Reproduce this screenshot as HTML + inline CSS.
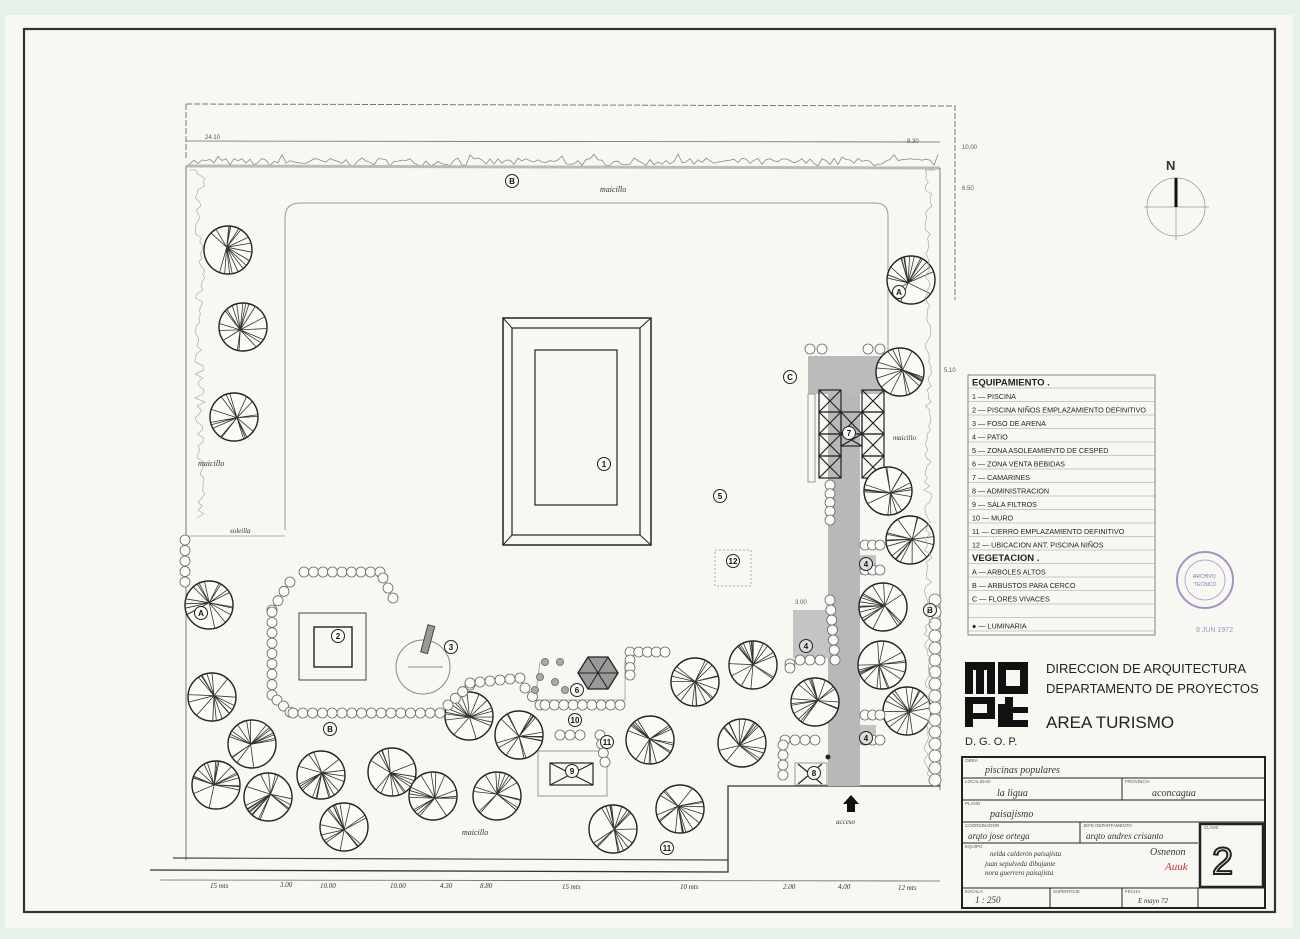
<!DOCTYPE html>
<html><head><meta charset="utf-8">
<style>
html,body{margin:0;padding:0;background:#e6f1ea;}
svg{display:block}
text{font-family:"Liberation Sans",sans-serif;}
.h{font-family:"Liberation Serif",serif;font-style:italic;fill:#333}
</style></head>
<body>
<svg id="s" width="1300" height="939" viewBox="0 0 1300 939" xmlns="http://www.w3.org/2000/svg">
<rect x="0" y="0" width="1300" height="939" fill="#e6f1ea"/>
<rect x="5" y="15" width="1288" height="913" fill="#f8f8f3"/>
<rect x="24" y="29" width="1251" height="883" fill="none" stroke="#333" stroke-width="2.2"/>

<path d="M186 104 L955 106 L955 300" fill="none" stroke="#777" stroke-width="1" stroke-dasharray="6 2"/>
<line x1="186" y1="104" x2="186" y2="160" stroke="#777" stroke-dasharray="6 2"/>
<line x1="186" y1="141" x2="940" y2="142" stroke="#666" stroke-width="0.8"/>
<text x="205" y="139" font-size="6" fill="#555">24.10</text>
<text x="907" y="143" font-size="6" fill="#555">8.30</text>
<text x="962" y="149" font-size="6" fill="#555">10.00</text>
<text x="962" y="190" font-size="6" fill="#555">6.50</text>
<text x="944" y="372" font-size="6" fill="#555">5.10</text>
<path id="hedgeTop" d="" fill="none" stroke="#888" stroke-width="0.8"/>
<line x1="186" y1="166" x2="940" y2="168" stroke="#bbb" stroke-width="3"/>
<path d="M186 166 L186 860 M940 168 L940 790" fill="none" stroke="#777" stroke-width="1"/>
<path d="M173 858 L728 860" stroke="#444" stroke-width="1.2"/>
<path d="M150 870 L728 872 L728 786 L940 786" fill="none" stroke="#333" stroke-width="1.3"/>
<path d="M300 203 L875 203 Q888 203 888 216 L888 350 M285 218 Q285 203 300 203 M285 218 L285 530" fill="none" stroke="#999" stroke-width="1"/>
<line x1="186" y1="536" x2="285" y2="536" stroke="#999" stroke-width="0.8"/>
<text x="198" y="466" class="h" font-size="8">maicillo</text>
<text x="230" y="533" class="h" font-size="7">soleilla</text>
<text x="600" y="192" class="h" font-size="8">maicillo</text>
<text x="893" y="440" class="h" font-size="7">maicillo</text>
<text x="462" y="835" class="h" font-size="8">maicillo</text>
<text x="836" y="824" class="h" font-size="7">acceso</text>

<rect x="503" y="318" width="148" height="227" fill="none" stroke="#222" stroke-width="1.5"/>
<rect x="512" y="328" width="128" height="207" fill="none" stroke="#222" stroke-width="1.2"/>
<line x1="503" y1="318" x2="512" y2="328" stroke="#222"/><line x1="651" y1="318" x2="640" y2="328" stroke="#222"/>
<line x1="503" y1="545" x2="512" y2="535" stroke="#222"/><line x1="651" y1="545" x2="640" y2="535" stroke="#222"/>
<rect x="535" y="350" width="82" height="155" fill="none" stroke="#222" stroke-width="1.2"/>

<rect x="299" y="613" width="67" height="67" fill="none" stroke="#444" stroke-width="1"/>
<rect x="314" y="627" width="38" height="40" fill="none" stroke="#222" stroke-width="1.4"/>
<circle cx="423" cy="667" r="27" fill="none" stroke="#888" stroke-width="1"/>
<rect x="424" y="625" width="7" height="28" fill="#999" stroke="#444" transform="rotate(15 427 640)"/>
<line x1="408" y1="667" x2="443" y2="667" stroke="#666" stroke-width="0.8"/>
<polygon points="588,657 608,657 618,673 608,689 588,689 578,673" fill="#999" stroke="#222" stroke-width="1.3"/>
<path d="M588 657 L608 689 M608 657 L588 689 M578 673 L618 673" stroke="#222"/>
<path d="M540 662 L535 700 L625 700 L625 662" fill="none" stroke="#aaa"/>
<rect x="538" y="751" width="69" height="45" fill="none" stroke="#999"/>
<rect x="550" y="763" width="43" height="22" fill="none" stroke="#222" stroke-width="1.2"/>
<path d="M550 763 L593 785 M593 763 L550 785" stroke="#222"/>
<rect x="808" y="356" width="77" height="38" fill="#bbb"/>
<rect x="828" y="394" width="32" height="392" fill="#b8b8b8"/>
<rect x="793" y="610" width="37" height="48" fill="#c4c4c4"/>
<rect x="860" y="555" width="16" height="20" fill="#c4c4c4"/>
<rect x="860" y="725" width="16" height="20" fill="#c4c4c4"/>
<rect x="808" y="394" width="7" height="88" fill="none" stroke="#999"/>
<g id="cam" stroke="#222" stroke-width="1.2" fill="none"></g>
<rect x="795" y="763" width="32" height="22" fill="none" stroke="#999"/>
<path d="M798 764 L822 784 M822 764 L798 784" stroke="#222" stroke-width="1.2"/>
<circle cx="828" cy="757" r="2.5" fill="#222"/>
<polygon points="851,795 843,804 847,804 847,812 855,812 855,804 859,804" fill="#111"/>
<text x="795" y="604" font-size="6" fill="#555">3.00</text>

<g id="trees"></g>
<g id="shrubs" fill="#fafaf6" stroke="#666" stroke-width="0.8"></g>
<g id="labels"></g>

<line x1="160" y1="880" x2="940" y2="881" stroke="#666" stroke-width="0.8"/>
<g font-size="7" class="h" fill="#444">
<text x="210" y="888" class="h">15 mts</text><text x="280" y="887" class="h">3.00</text>
<text x="320" y="888" class="h">10.00</text><text x="390" y="888" class="h">10.00</text>
<text x="440" y="888" class="h">4.30</text><text x="480" y="888" class="h">8.80</text>
<text x="562" y="889" class="h">15 mts</text><text x="680" y="889" class="h">10 mts</text>
<text x="783" y="889" class="h">2.00</text><text x="838" y="889" class="h">4.00</text>
<text x="898" y="890" class="h">12 mts</text>
</g>

<text x="1166" y="170" font-size="13" fill="#333" font-weight="bold">N</text>
<circle cx="1176" cy="207" r="29" fill="none" stroke="#999" stroke-width="0.8"/>
<line x1="1144" y1="207" x2="1209" y2="207" stroke="#999" stroke-width="0.8"/>
<line x1="1176" y1="178" x2="1176" y2="240" stroke="#999" stroke-width="0.8"/>
<line x1="1176" y1="178" x2="1176" y2="207" stroke="#111" stroke-width="3"/>

<g id="legend"></g>

<circle cx="1205" cy="580" r="28" fill="none" stroke="#a790c8" stroke-width="2"/>
<circle cx="1205" cy="580" r="20" fill="none" stroke="#b9a6d6" stroke-width="1"/>
<text x="1193" y="578" font-size="5" fill="#8a70b8">ARCHIVO</text>
<text x="1194" y="586" font-size="5" fill="#8a70b8">TECNICO</text>
<text x="1196" y="632" font-size="7" fill="#a58cc8">9 JUN 1972</text>

<g fill="#111">
<rect x="965" y="662" width="30" height="32"/><rect x="998" y="662" width="30" height="32"/>
<rect x="965" y="697" width="30" height="30"/><rect x="998" y="697" width="30" height="30"/>
</g>
<g fill="#f8f8f3">
<rect x="973" y="670" width="3" height="24"/><rect x="984" y="670" width="3" height="24"/>
<rect x="1006" y="670" width="14" height="16"/>
<rect x="973" y="704" width="14" height="9"/><rect x="973" y="719" width="22" height="8"/>
<rect x="998" y="697" width="7" height="7"/><rect x="1013" y="697" width="15" height="10"/><rect x="1013" y="713" width="15" height="7"/>
</g>
<text x="965" y="745" font-size="11" fill="#222">D. G. O. P.</text>
<text x="1046" y="673" font-size="13" fill="#222">DIRECCION  DE  ARQUITECTURA</text>
<text x="1046" y="693" font-size="13" fill="#222">DEPARTAMENTO  DE  PROYECTOS</text>
<text x="1046" y="728" font-size="17" fill="#222">AREA  TURISMO</text>

<g fill="none" stroke="#222">
<rect x="962" y="757" width="303" height="151" stroke-width="2"/>
<line x1="962" y1="778" x2="1265" y2="778"/>
<line x1="962" y1="800" x2="1265" y2="800"/>
<line x1="1122" y1="778" x2="1122" y2="800"/>
<line x1="962" y1="822" x2="1265" y2="822"/>
<line x1="962" y1="843" x2="1198" y2="843"/>
<line x1="1080" y1="822" x2="1080" y2="843"/>
<line x1="962" y1="888" x2="1265" y2="888"/>
<line x1="1050" y1="888" x2="1050" y2="908"/>
<line x1="1122" y1="888" x2="1122" y2="908"/>
<line x1="1198" y1="888" x2="1198" y2="908"/>
<rect x="1200" y="824" width="63" height="63" stroke-width="2.5"/>
</g>
<g font-size="4.5" fill="#555">
<text x="965" y="762">OBRA</text><text x="965" y="783">LOCALIDAD</text><text x="1125" y="783">PROVINCIA</text>
<text x="965" y="805">PLANO</text><text x="965" y="827">COORDINADOR</text><text x="1083" y="827">JEFE DEPARTAMENTO</text>
<text x="1204" y="829">CLAVE</text><text x="965" y="848">EQUIPO</text><text x="965" y="893">ESCALA</text>
<text x="1053" y="893">SUPERFICIE</text><text x="1125" y="893">FECHA</text>
</g>
<g class="h" font-size="10">
<text x="985" y="773" class="h">piscinas  populares</text>
<text x="997" y="796" class="h">la  ligua</text>
<text x="1152" y="796" class="h">aconcagua</text>
<text x="990" y="817" class="h">paisajismo</text>
<text x="968" y="839" class="h" font-size="9">arqto  jose  ortega</text>
<text x="1086" y="839" class="h" font-size="9">arqto andres crisanto</text>
<text x="990" y="856" class="h" font-size="7">nelda calderón  paisajista</text>
<text x="985" y="866" class="h" font-size="7">juan sepulveda  dibujante</text>
<text x="985" y="875" class="h" font-size="7">nora guerrero  paisajista</text>
<text x="975" y="903" class="h" font-size="9">1 : 250</text>
<text x="1138" y="903" class="h" font-size="7">E mayo 72</text>
</g>
<text x="1150" y="855" class="h" font-size="10">Osnenon</text>
<text x="1165" y="870" class="h" font-size="11" style="fill:#c33">Auuk</text>
<text x="1212" y="874" font-size="38" fill="#f8f8f3" stroke="#222" stroke-width="2">2</text>
</svg>
<script>
var NS="http://www.w3.org/2000/svg";
function el(t,a,p){var e=document.createElementNS(NS,t);for(var k in a)e.setAttribute(k,a[k]);(p||document.getElementById('s')).appendChild(e);return e;}
var seed=7;function rnd(){seed=(seed*16807)%2147483647;return seed/2147483647;}
var d="M186 166";for(var x=186;x<=940;x+=4){d+=" L"+x+" "+(166-rnd()*8+ (rnd()<0.1?-4:0)).toFixed(1);}
document.getElementById('hedgeTop').setAttribute('d',d);
var g=document.getElementById('s');
var d2="M190 170";for(var y=170;y<=520;y+=4){d2+=" L"+(195+rnd()*10).toFixed(1)+" "+y;}
el('path',{d:d2,fill:'none',stroke:'#aaa','stroke-width':0.7});
var d3="M935 170";for(var y=170;y<=780;y+=4){d3+=" L"+(932-rnd()*8).toFixed(1)+" "+y;}
el('path',{d:d3,fill:'none',stroke:'#aaa','stroke-width':0.7});
var cam=document.getElementById('cam');
function xb(x,y,w,h){el('rect',{x:x,y:y,width:w,height:h},cam);el('path',{d:'M'+x+' '+y+' L'+(x+w)+' '+(y+h)+' M'+(x+w)+' '+y+' L'+x+' '+(y+h)},cam);}
for(var i=0;i<4;i++){xb(819,390+i*22,22,22);xb(862,390+i*22,22,22);}
xb(841,412,21,22);xb(841,434,21,12);
var T=[[228,250],[243,327],[234,417],[209,605],[212,697],[252,744],[216,785],[268,797],[321,775],[392,772],[344,827],[433,796],[497,796],[469,716],[519,735],[650,740],[695,682],[742,743],[753,665],[613,829],[680,809],[815,702],[911,280],[900,372],[888,491],[910,540],[883,607],[882,665],[907,711]];
var tg=document.getElementById('trees');
T.forEach(function(t){var cx=t[0],cy=t[1],r=24;
el('circle',{cx:cx,cy:cy,r:r,fill:'#fafaf6',stroke:'#222','stroke-width':1.4},tg);
var ox=cx+(rnd()-0.5)*6,oy=cy+(rnd()-0.5)*6;var p="";
for(var i=0;i<18;i++){var a=rnd()*6.283;p+="M"+ox.toFixed(1)+" "+oy.toFixed(1)+" L"+(cx+Math.cos(a)*r).toFixed(1)+" "+(cy+Math.sin(a)*r).toFixed(1)+" ";}
el('path',{d:p,stroke:'#333','stroke-width':0.8,fill:'none'},tg);});
var sg=document.getElementById('shrubs');
function row(x1,y1,x2,y2,r){var L=Math.hypot(x2-x1,y2-y1),n=Math.max(1,Math.round(L/(r*2)));for(var i=0;i<=n;i++){el('circle',{cx:x1+(x2-x1)*i/n,cy:y1+(y2-y1)*i/n,r:r},sg);}}
row(185,540,185,582,5);
row(304,572,380,572,5);row(383,578,393,598,5);
row(290,582,272,610,5);row(272,612,272,695,5);row(277,700,290,712,5);row(293,713,440,713,5);
row(448,705,470,685,5);row(470,683,520,678,5);row(525,688,540,705,5);row(545,705,620,705,5);
row(630,652,665,652,5);row(630,660,630,675,5);
row(785,740,815,740,5);row(783,745,783,775,5);
row(810,349,822,349,5);row(868,349,880,349,5);
row(830,485,830,520,5);row(830,600,835,660,5);row(820,660,800,660,5);row(790,664,790,668,5);
row(865,545,880,545,5);row(865,570,880,570,5);row(865,715,880,715,5);row(865,740,880,740,5);
row(935,600,935,780,6);
row(600,735,605,762,5);row(580,735,560,735,5);
[[545,662],[560,662],[540,677],[555,682],[535,690],[565,690]].forEach(function(p){el('circle',{cx:p[0],cy:p[1],r:3.5,fill:'#aaa',stroke:'#777'},g);});
var lg=document.getElementById('labels');
function lab(x,y,t,f){el('circle',{cx:x,cy:y,r:6.5,fill:f?'#ddd':'#fafaf6',stroke:'#222','stroke-width':1},lg);var e=el('text',{x:x,y:y+3,'font-size':8,'text-anchor':'middle','font-weight':'bold',fill:'#111'},lg);e.textContent=t;}
lab(604,464,'1');lab(338,636,'2');lab(451,647,'3');lab(720,496,'5');lab(733,561,'12');lab(577,690,'6');lab(575,720,'10');
lab(607,742,'11');lab(572,771,'9');lab(814,773,'8');lab(849,433,'7');lab(806,646,'4',1);lab(866,564,'4',1);lab(866,738,'4',1);
lab(667,848,'11');lab(512,181,'B');lab(201,613,'A');lab(930,610,'B');lab(330,729,'B');lab(899,292,'A');lab(790,377,'C');
el('rect',{x:715,y:550,width:36,height:36,fill:'none',stroke:'#aaa','stroke-dasharray':'2 2'},lg);
var lgd=document.getElementById('legend');
el('rect',{x:968,y:375,width:187,height:260,fill:'none',stroke:'#666','stroke-width':0.8},lgd);
var items=[["EQUIPAMIENTO .",1],["1 — PISCINA"],["2 — PISCINA  NIÑOS EMPLAZAMIENTO DEFINITIVO"],["3 — FOSO DE ARENA"],["4 — PATIO"],["5 — ZONA ASOLEAMIENTO DE CESPED"],["6 — ZONA VENTA BEBIDAS"],["7 — CAMARINES"],["8 — ADMINISTRACION"],["9 — SALA FILTROS"],["10 — MURO"],["11 — CIERRO EMPLAZAMIENTO DEFINITIVO"],["12 — UBICACION ANT. PISCINA NIÑOS"],["VEGETACION .",1],["A — ARBOLES   ALTOS"],["B — ARBUSTOS  PARA CERCO"],["C — FLORES   VIVACES"],[""],["● — LUMINARIA"]];
items.forEach(function(it,i){var y=388+i*13.5;el('line',{x1:968,y1:y,x2:1155,y2:y,stroke:'#999','stroke-width':0.6},lgd);
var t=el('text',{x:972,y:y-2.5,'font-size':it[1]?9.5:7.2,'font-weight':it[1]?'bold':'normal',fill:'#222'},lgd);t.textContent=it[0];});
</script>
</body></html>
